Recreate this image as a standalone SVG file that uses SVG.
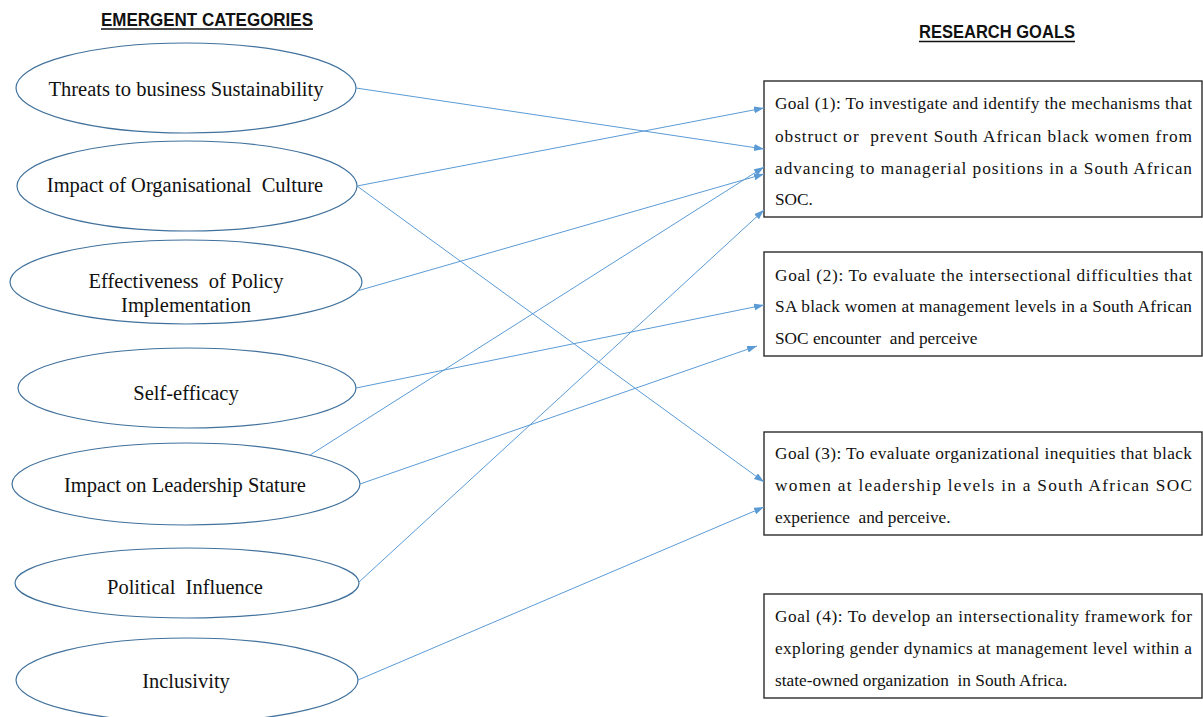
<svg xmlns="http://www.w3.org/2000/svg" width="1203" height="717" viewBox="0 0 1203 717">
  <style>
    .bg { fill: #ffffff; }
    .hdr { font-family: "Liberation Sans", Arial, sans-serif; font-weight: bold; font-size: 17.5px; fill: #111111; }
    .uline { stroke: #111111; stroke-width: 1.3; }
    .cat ellipse { fill: #ffffff; stroke: #41719C; stroke-width: 1.2; }
    .cat text { font-family: "Liberation Serif", "Times New Roman", serif; font-size: 20.5px; fill: #111111; text-anchor: middle; white-space: pre; }
    .goal rect { fill: #ffffff; stroke: #2b2b2b; stroke-width: 1.4; }
    .goal text { font-family: "Liberation Serif", "Times New Roman", serif; font-size: 17.3px; fill: #111111; white-space: pre; }
    .conn line { stroke: #5B9BD5; stroke-width: 1; marker-end: url(#arrow); }
  </style>
  <defs>
    <marker id="arrow" markerUnits="userSpaceOnUse" markerWidth="11" markerHeight="8" refX="10" refY="3.5" orient="auto">
      <path d="M0,0 L10,3.5 L0,7 z" fill="#5B9BD5"/>
    </marker>
  </defs>

  <rect class="bg" x="0" y="0" width="1203" height="717"/>

  <!-- column headings -->
  <g id="heading-categories">
    <text class="hdr" x="101" y="26" textLength="212" lengthAdjust="spacingAndGlyphs">EMERGENT CATEGORIES</text>
    <line class="uline" x1="101" y1="29" x2="313" y2="29"/>
  </g>
  <g id="heading-goals">
    <text class="hdr" x="919" y="38" textLength="156" lengthAdjust="spacingAndGlyphs">RESEARCH GOALS</text>
    <line class="uline" x1="919" y1="41.5" x2="1075" y2="41.5"/>
  </g>

  <!-- emergent categories -->
  <g id="cat-threats" class="cat">
    <ellipse cx="186" cy="88" rx="170" ry="45"/>
    <text x="186" y="96">Threats to business Sustainability</text>
  </g>
  <g id="cat-culture" class="cat">
    <ellipse cx="187" cy="186" rx="170" ry="45"/>
    <text x="185" y="192">Impact of Organisational  Culture</text>
  </g>
  <g id="cat-policy" class="cat">
    <ellipse cx="186" cy="282" rx="176" ry="42"/>
    <text x="186" y="288">Effectiveness  of Policy</text>
    <text x="186" y="312">Implementation</text>
  </g>
  <g id="cat-selfefficacy" class="cat">
    <ellipse cx="187" cy="388" rx="169" ry="40"/>
    <text x="186" y="400">Self-efficacy</text>
  </g>
  <g id="cat-leadership" class="cat">
    <ellipse cx="186" cy="484" rx="174" ry="41"/>
    <text x="185" y="492">Impact on Leadership Stature</text>
  </g>
  <g id="cat-political" class="cat">
    <ellipse cx="187" cy="583" rx="172" ry="35"/>
    <text x="185" y="594">Political  Influence</text>
  </g>
  <g id="cat-inclusivity" class="cat">
    <ellipse cx="187" cy="680" rx="171" ry="42"/>
    <text x="186" y="688">Inclusivity</text>
  </g>

  <!-- research goals -->
  <g id="goal-1" class="goal">
    <rect x="764" y="81" width="438" height="136"/>
    <text x="775" y="109" textLength="417" lengthAdjust="spacing">Goal (1): To investigate and identify the mechanisms that</text>
    <text x="775" y="142" textLength="417" lengthAdjust="spacing">obstruct or  prevent South African black women from</text>
    <text x="775" y="174" textLength="417" lengthAdjust="spacing">advancing to managerial positions in a South African</text>
    <text x="775" y="205">SOC.</text>
  </g>
  <g id="goal-2" class="goal">
    <rect x="764" y="252" width="438" height="104"/>
    <text x="775" y="281" textLength="417" lengthAdjust="spacing">Goal (2): To evaluate the intersectional difficulties that</text>
    <text x="775" y="312" textLength="417" lengthAdjust="spacing">SA black women at management levels in a South African</text>
    <text x="775" y="344">SOC encounter  and perceive</text>
  </g>
  <g id="goal-3" class="goal">
    <rect x="764" y="432" width="438" height="103"/>
    <text x="775" y="459" textLength="417" lengthAdjust="spacing">Goal (3): To evaluate organizational inequities that black</text>
    <text x="775" y="491" textLength="417" lengthAdjust="spacing">women at leadership levels in a South African SOC</text>
    <text x="775" y="523">experience  and perceive.</text>
  </g>
  <g id="goal-4" class="goal">
    <rect x="764" y="594" width="438" height="104"/>
    <text x="775" y="622" textLength="417" lengthAdjust="spacing">Goal (4): To develop an intersectionality framework for</text>
    <text x="775" y="654" textLength="417" lengthAdjust="spacing">exploring gender dynamics at management level within a</text>
    <text x="775" y="686">state-owned organization  in South Africa.</text>
  </g>

  <!-- category-to-goal links -->
  <g id="connectors" class="conn">
    <line x1="356" y1="88" x2="764" y2="149"/>
    <line x1="357" y1="186" x2="764" y2="108"/>
    <line x1="357" y1="186" x2="764" y2="482"/>
    <line x1="357" y1="291" x2="764" y2="174"/>
    <line x1="356" y1="388" x2="764" y2="305"/>
    <line x1="310" y1="455" x2="764" y2="167"/>
    <line x1="360" y1="484" x2="757" y2="346"/>
    <line x1="359" y1="582" x2="764" y2="210"/>
    <line x1="358" y1="680" x2="764" y2="507"/>
  </g>
</svg>
